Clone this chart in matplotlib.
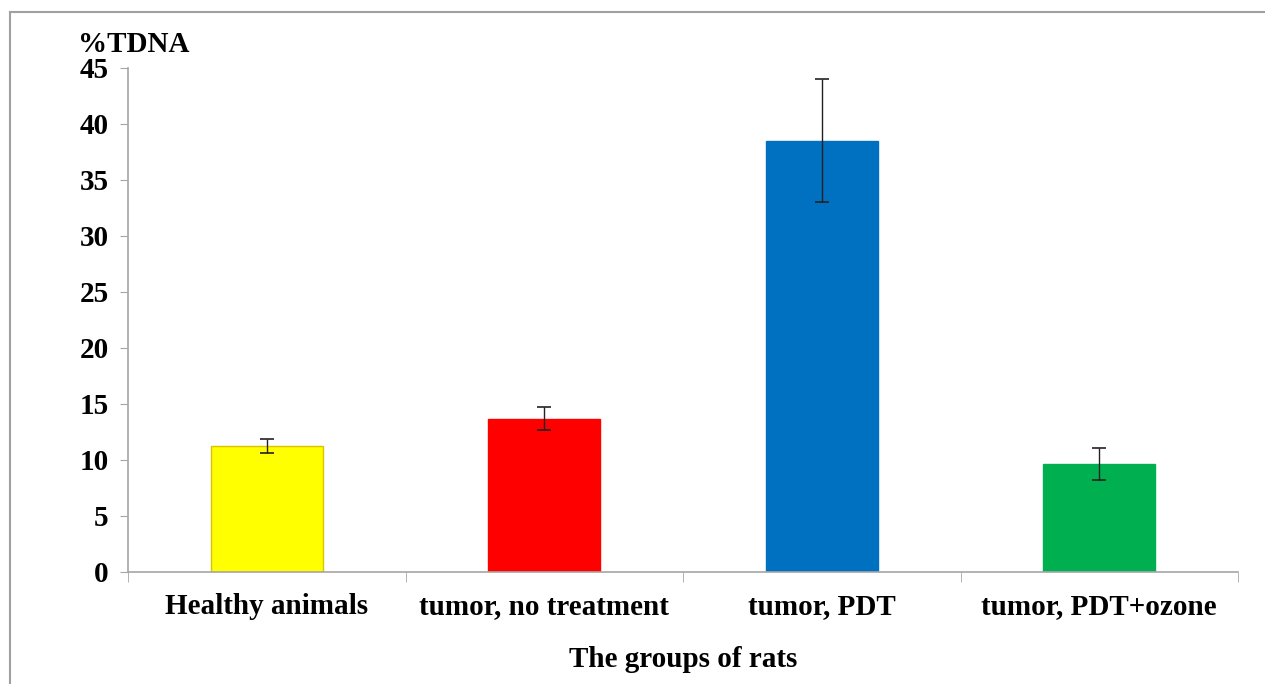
import numpy as np
import matplotlib
matplotlib.use("Agg")
import matplotlib.pyplot as plt
from matplotlib.lines import Line2D

groups = ["Healthy animals", "tumor, no treatment", "tumor, PDT", "tumor, PDT+ozone"]
tdna = [11.25, 13.7, 38.5, 9.65]
tdna_err = [0.6, 1.0, 5.5, 1.4]
colors = ["#FFFF00", "#FF0000", "#0070C0", "#00B050"]
edges = ["#D9C400", "#FF0000", "#0070C0", "#00B050"]
yticks = [0, 5, 10, 15, 20, 25, 30, 35, 40, 45]

plt.rcParams['font.family'] = ['Liberation Serif', 'DejaVu Serif']
plt.rcParams['font.weight'] = 'bold'
fs = 21

fig = plt.figure(figsize=(12.65, 6.84), dpi=100)
ax = fig.add_axes([128 / 1265, 1 - 572 / 684, (1238 - 128) / 1265, (572 - 68) / 684])

x = np.arange(len(groups))
ax.bar(x, tdna, width=0.405, color=colors, edgecolor=edges, linewidth=1)
ax.errorbar(x, tdna, yerr=tdna_err, fmt='none', ecolor='#222222',
            elinewidth=1, capsize=5, capthick=1.2)

ax.set_xlim(-0.5, len(groups) - 0.5)
ax.set_ylim(0, 45)
ax.set_yticks(yticks)
ax.set_yticklabels([str(v) for v in yticks], fontsize=fs, fontweight='bold')

ax.set_xticks(x)
ax.set_xticklabels(groups, fontsize=fs, fontweight='bold')
ax.tick_params(axis='x', length=0, pad=15)
ax.set_xticks(np.arange(-0.5, len(groups)), minor=True)
ax.tick_params(axis='x', which='minor', length=7, color='#a6a6a6', direction='out')
ax.tick_params(axis='y', length=6, color='#a6a6a6', direction='out', pad=8)

for s in ['top', 'right']:
    ax.spines[s].set_visible(False)
for s in ['left', 'bottom']:
    ax.spines[s].set_color('#a6a6a6')
    ax.spines[s].set_linewidth(1.2)

ax.set_xlabel("The groups of rats", fontsize=fs, fontweight='bold', labelpad=19)
fig.text(78 / 1265, 1 - 45 / 684, "%TDNA", fontsize=fs, fontweight='bold', va='center', ha='left')

# outer frame (top and left only)
fig.add_artist(Line2D([10 / 1265, 10 / 1265], [0, 1 - 12 / 684], color='#a0a0a0', lw=1.5))
fig.add_artist(Line2D([10 / 1265, 1], [1 - 12 / 684, 1 - 12 / 684], color='#a0a0a0', lw=1.5))

fig.savefig("out.png", dpi=100)
